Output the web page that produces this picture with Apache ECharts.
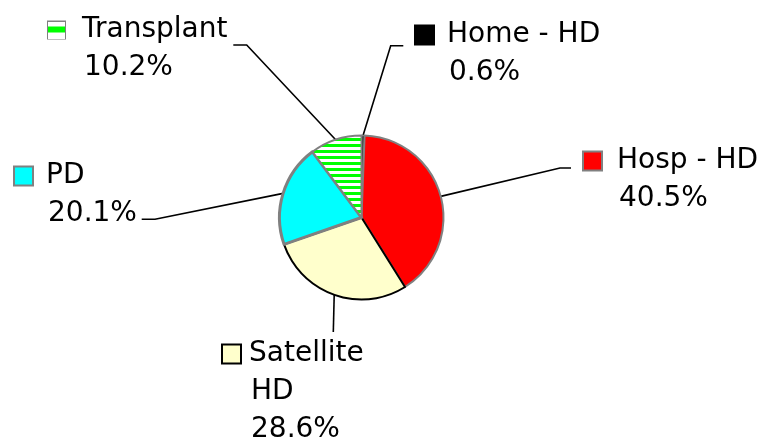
<!DOCTYPE html>
<html>
<head>
<meta charset="utf-8">
<script src="https://cdn.jsdelivr.net/npm/echarts@6/dist/echarts.min.js"></script>
<style>
  html, body { margin: 0; padding: 0; background: #fff; }
  #chart { width: 766px; height: 437px; }
</style>
</head>
<body>
<div id="chart"></div>
<script>
// data
var categories = ['Home - HD', 'Hosp - HD', 'Satellite HD', 'PD', 'Transplant'];
var labelNames = ['Home - HD', 'Hosp - HD', 'Satellite\nHD', 'PD', 'Transplant'];
var shares = [0.6, 40.5, 28.6, 20.1, 10.2];

// stripes for the transplant slice
function stripes(w, h, band) {
  var c = document.createElement('canvas');
  c.width = w; c.height = h;
  var ctx = c.getContext('2d');
  ctx.fillStyle = '#fff';
  ctx.fillRect(0, 0, w, h);
  ctx.fillStyle = '#00ff00';
  ctx.fillRect(0, band[0], w, band[1]);
  return c;
}
var slicePattern = stripes(8, 6, [0, 3]);
var boxPattern = stripes(17, 17, [5, 6]);

var fills = ['#000000', '#ff0000', '#ffffcc', '#00ffff', { image: slicePattern, repeat: 'repeat' }];
var borders = ['#808080', '#808080', '#000000', '#808080', '#808080'];
var borderW = [1.5, 2, 2, 3, 2];
var boxFill = ['#000000', '#ff0000', '#ffffcc', '#00ffff', { image: boxPattern }];
var boxBorder = ['#000000', '#808080', '#000000', '#808080', '#808080'];

// label placement: top-left of box, gap from box to text, leader line elbow + end
var labelPos = [
  { x: 416, y: 16, gap: 14, elbow: [390.7, 45.7], end: [403.3, 45.7] },
  { x: 584, y: 142, gap: 16, elbow: [560, 168], end: [571, 168] },
  { x: 223, y: 335, gap: 9, elbow: [333.3, 332], end: [333.3, 332] },
  { x: 15, y: 157, gap: 14, elbow: [155, 219.3], end: [141.7, 219.3] },
  { x: 48, y: 11, gap: 17, elbow: [246.7, 45], end: [233.3, 45] }
];

var seriesData = categories.map(function (name, i) {
  var rich = {
    t: { fontFamily: 'DejaVu Sans', fontSize: 28, lineHeight: 38, color: '#000' },
    box: { width: 17, height: 17, backgroundColor: boxFill[i], borderColor: boxBorder[i], borderWidth: 2 },
    gap: { width: labelPos[i].gap, height: 10 },
    sp: { width: 17 + 2 + labelPos[i].gap, height: 10 }
  };
  var lines = labelNames[i].split('\n').concat([shares[i].toFixed(1) + '%']);
  var txt = lines.map(function (l, k) {
    return (k === 0 ? '{box|}{gap|}' : '{sp|}') + '{t|' + l + '}';
  }).join('\n');
  return {
    name: name,
    value: shares[i],
    itemStyle: { color: fills[i], borderColor: borders[i], borderWidth: borderW[i] },
    label: { formatter: txt, rich: rich }
  };
});

var myChart = echarts.init(document.getElementById('chart'), null, { renderer: 'canvas' });

var option = {
  backgroundColor: '#ffffff',
  animation: false,
  series: [{
    type: 'pie',
    center: [361.5, 217.5],
    radius: 82,
    startAngle: 90,
    clockwise: true,
    avoidLabelOverlap: false,
    data: seriesData,
    label: { show: true, position: 'outside', align: 'left' },
    labelLine: { show: true, length: 10, length2: 10, lineStyle: { color: '#000', width: 1.6 } },
    labelLayout: function (params) {
      var p = labelPos[params.dataIndex];
      var start = params.labelLinePoints ? params.labelLinePoints[0] : p.elbow;
      return {
        x: p.x,
        y: p.y,
        align: 'left',
        verticalAlign: 'top',
        labelLinePoints: [start, p.elbow, p.end]
      };
    }
  }]
};

if (option && typeof option === "object") {
  myChart.setOption(option, true);
}
</script>
</body>
</html>
